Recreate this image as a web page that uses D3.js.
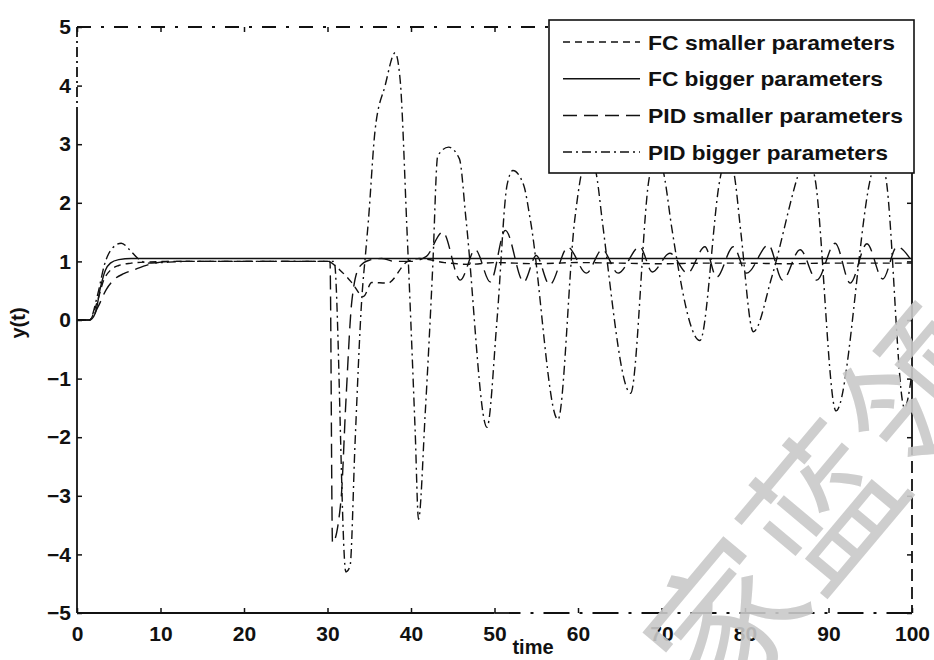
<!DOCTYPE html>
<html>
<head>
<meta charset="utf-8">
<script src="https://d3js.org/d3.v7.min.js"></script>
<style>
    body { margin: 0; background: #fff; }
    text { font-family: "Liberation Sans", Arial, sans-serif; fill: #111; }
</style>
</head>
<body>
<svg width="934" height="660"></svg>
<script>
    // tick labels
    var xTicks = [0, 10, 20, 30, 40, 50, 60, 70, 80, 90, 100];
    var yTicks = [-5, -4, -3, -2, -1, 0, 1, 2, 3, 4, 5];
    var seriesNames = ["FC smaller parameters", "FC bigger parameters", "PID smaller parameters", "PID bigger parameters"];

    // FC smaller parameters (dashed)
    var fcSmallT = [0, 1.5, 2.4, 3.2, 4.0, 5.0, 6.5, 8.5, 12, 30, 31.5, 32.9, 34.3, 35.3, 37.2, 39.5, 41, 44, 47, 50, 55, 60, 65, 70, 75, 80, 85, 90, 95, 100];
    var fcSmallY = [0, 0, 0.3, 0.68, 0.85, 0.93, 0.97, 0.99, 1.0, 1.0, 0.85, 0.64, 0.4, 0.64, 0.63, 0.99, 1.05, 0.98, 0.95, 0.98, 0.96, 0.98, 0.97, 0.96, 0.97, 0.97, 0.96, 0.97, 0.97, 0.97];

    // FC bigger parameters (solid)
    var fcBigT = [0, 1.5, 2.2, 2.8, 3.4, 4.0, 5.0, 6.5, 8, 100];
    var fcBigY = [0, 0, 0.12, 0.55, 0.85, 0.97, 1.03, 1.05, 1.05, 1.05];

    // PID smaller parameters (long dash)
    var pidSmallT = [0, 1.5, 2.5, 3.5, 4.6, 5.6, 6.7, 8.7, 11, 30, 30.3, 30.6, 31.6, 32.2, 32.9, 33.8, 35, 36.5, 38, 40, 41.8, 43.8, 45.9, 47.7, 49.5, 51.3, 53.5, 55.0, 56.6, 58.8, 61.0, 62.9, 64.8, 67.4, 68.9, 71.0, 73.1, 75.2, 76.6, 78.6, 80.2, 82.8, 84.5, 86.6, 88.6, 90.8, 92.6, 94.6, 96.5, 98.2, 100];
    var pidSmallY = [0, 0, 0.22, 0.52, 0.71, 0.79, 0.85, 0.95, 1.0, 1.0, 1.0, -3.8, -3.1, -1.4, 0.3, 0.9, 1.02, 1.05, 1.0, 1.0, 1.08, 1.5, 0.68, 1.2, 0.65, 1.53, 0.65, 1.1, 0.6, 1.24, 0.8, 1.2, 0.8, 1.25, 0.82, 1.14, 0.8, 1.25, 0.73, 1.25, 0.8, 1.28, 0.68, 1.2, 0.68, 1.31, 0.63, 1.3, 0.7, 1.25, 1.0];

    // PID bigger parameters (dash-dot)
    var pidBigT = [0, 1.5, 2.5, 3.3, 4.2, 5.3, 6.3, 7.3, 8.5, 10, 13, 30, 30.8, 32.2, 32.7, 33.3, 34.1, 34.6, 34.9, 35.7, 36.9, 38.1, 38.7, 39.5, 40.5, 40.9, 41.7, 42.6, 43.2, 44.5, 45.8, 46.6, 49.1, 50.3, 51.5, 52.2, 53.5, 54.3, 57.6, 59.6, 60.4, 61.3, 62.3, 62.9, 66.3, 68.5, 69.5, 70.4, 71.2, 74.6, 77.0, 77.9, 78.8, 79.5, 81.0, 83.2, 86.2, 87.3, 88.4, 90.9, 95.0, 95.9, 96.9, 99.1, 100];
    var pidBigY = [0, 0, 0.45, 0.95, 1.22, 1.31, 1.2, 1.05, 0.97, 0.98, 1.0, 1.0, 1.0, -4.3, -4.2, -2.1, 0.35, 1.2, 1.7, 3.24, 4.0, 4.56, 4.1, 1.6, -1.9, -3.4, -1.6, 0.9, 2.8, 2.95, 2.75, 1.7, -1.83, 0.0, 2.3, 2.55, 2.3, 1.7, -1.7, 1.7, 2.5, 2.9, 2.4, 1.7, -1.25, 2.4, 2.9, 2.4, 1.6, -0.35, 2.4, 2.9, 2.4, 1.5, -0.2, 0.73, 2.4, 2.9, 2.4, -1.55, 2.4, 2.9, 2.4, -1.5, -0.9];

    var watermark = "家蓝领";

    var svg = d3.select("svg"),
        margin = { top: 27, right: 22, bottom: 47, left: 77 },
        width = +svg.attr("width") - margin.left - margin.right,
        height = +svg.attr("height") - margin.top - margin.bottom,
        g = svg.append("g").attr("transform", "translate(" + margin.left + "," + margin.top + ")");

    var x = d3.scaleLinear().domain([0, 100]).range([0, width]);
    var y = d3.scaleLinear().domain([-5, 5]).range([height, 0]);

    svg.append("clipPath").attr("id", "plot")
        .append("rect").attr("width", width).attr("height", height);

    var line = d3.line()
        .x(function (d) { return x(d[0]); })
        .y(function (d) { return y(d[1]); })
        .curve(d3.curveMonotoneX);

    var series = [
        { t: fcSmallT, v: fcSmallY, dash: "7,5" },
        { t: fcBigT, v: fcBigY, dash: null },
        { t: pidSmallT, v: pidSmallY, dash: "14,7" },
        { t: pidBigT, v: pidBigY, dash: "9,4,2,4" }
    ];

    var lines = g.append("g").attr("clip-path", "url(#plot)");
    series.forEach(function (s) {
        lines.append("path")
            .datum(d3.zip(s.t, s.v))
            .attr("fill", "none")
            .attr("stroke", "#111")
            .attr("stroke-width", 1.4)
            .attr("stroke-dasharray", s.dash)
            .attr("d", line);
    });

    // axes, MATLAB style ticks pointing inward
    function styleAxis(sel) {
        sel.select(".domain").remove();
        sel.selectAll("line").attr("stroke", "#111").attr("stroke-width", 1.5);
        sel.selectAll("text").style("font-size", "21px").style("font-weight", "bold").attr("fill", "#111");
    }
    g.append("g")
        .attr("transform", "translate(0," + height + ")")
        .call(d3.axisBottom(x).tickValues(xTicks).tickSize(-5).tickPadding(13))
        .call(styleAxis);
    g.append("g")
        .call(d3.axisLeft(y).tickValues(yTicks).tickSize(-5).tickPadding(6))
        .call(styleAxis);
    g.append("g")
        .call(d3.axisTop(x).tickValues(xTicks).tickSize(-5).tickFormat(""))
        .call(styleAxis);
    g.append("g")
        .attr("transform", "translate(" + width + ",0)")
        .call(d3.axisRight(y).tickValues(yTicks).tickSize(-5).tickFormat(""))
        .call(styleAxis);

    // box (the scan left parts of it broken)
    var box = g.append("g").attr("stroke", "#111").attr("stroke-width", 1.8).attr("fill", "none");
    box.append("line").attr("x1", 0).attr("x2", width).attr("y1", 0).attr("y2", 0).attr("stroke-dasharray", "14,10,3,10");
    box.append("line").attr("x1", 0).attr("x2", 0).attr("y1", 0).attr("y2", y(3.6)).attr("stroke-dasharray", "10,4,2,4");
    box.append("line").attr("x1", 0).attr("x2", 0).attr("y1", y(3.6)).attr("y2", height);
    box.append("line").attr("x1", 0).attr("x2", x(50)).attr("y1", height).attr("y2", height);
    box.append("line").attr("x1", x(50)).attr("x2", width).attr("y1", height).attr("y2", height).attr("stroke-dasharray", "26,10,3,10");
    box.append("line").attr("x1", width).attr("x2", width).attr("y1", 0).attr("y2", y(-2.1));
    box.append("line").attr("x1", width).attr("x2", width).attr("y1", y(-2.1)).attr("y2", height).attr("stroke-dasharray", "12,6");

    // axis titles
    svg.append("text")
        .attr("x", 533).attr("y", 654)
        .attr("text-anchor", "middle")
        .style("font-size", "20px").style("font-weight", "bold")
        .text("time");
    svg.append("text")
        .attr("transform", "translate(25,323) rotate(-90)")
        .attr("text-anchor", "middle")
        .style("font-size", "20px").style("font-weight", "bold")
        .text("y(t)");

    // legend
    var legend = svg.append("g").attr("transform", "translate(549,20)");
    legend.append("rect")
        .attr("width", 365).attr("height", 153)
        .attr("fill", "#fff").attr("stroke", "#111").attr("stroke-width", 1.6);
    var textLen = [247, 235, 255, 240];
    seriesNames.forEach(function (name, i) {
        var cy = 22 + i * 36.7;
        legend.append("line")
            .attr("x1", 14).attr("x2", 91).attr("y1", cy).attr("y2", cy)
            .attr("stroke", "#111").attr("stroke-width", 1.5)
            .attr("stroke-dasharray", series[i].dash);
        legend.append("text")
            .attr("x", 99).attr("y", cy + 7.5)
            .attr("textLength", textLen[i])
            .attr("lengthAdjust", "spacingAndGlyphs")
            .style("font-size", "21px").style("font-weight", "bold")
            .text(name);
    });

    // watermark of the scanned source
    svg.append("text")
        .attr("transform", "translate(815,500) rotate(-50)")
        .attr("text-anchor", "middle")
        .attr("dominant-baseline", "central")
        .style("font-family", "'Noto Sans CJK SC', sans-serif")
        .style("font-size", "150px")
        .style("fill", "#c9c9c9")
        .style("fill-opacity", 0.9)
        .text(watermark);
</script>
</body>
</html>
